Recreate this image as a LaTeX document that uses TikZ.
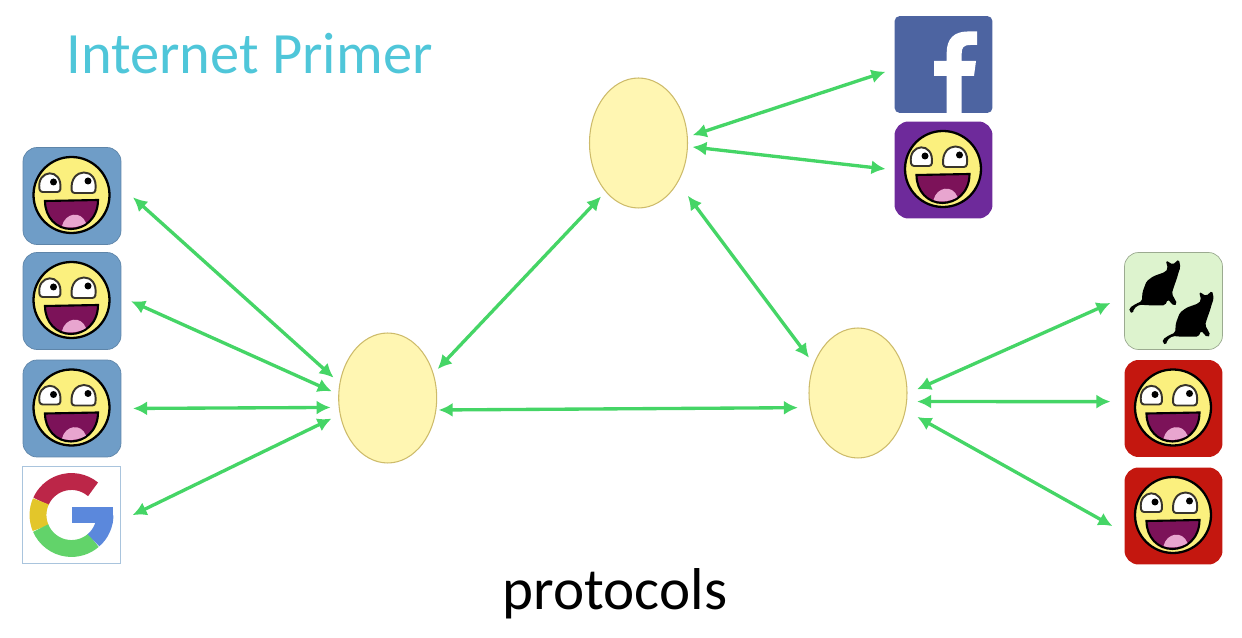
\documentclass[tikz,border=0pt]{standalone}
\usepackage{fontspec}
\setmainfont{Carlito}
\usetikzlibrary{arrows.meta, shapes.geometric}
\definecolor{linkgreen}{HTML}{45D566}
\definecolor{hubfill}{HTML}{FFF6B2}
\definecolor{hubline}{HTML}{CDBB6A}
\definecolor{titleblue}{HTML}{4FC6D9}
\definecolor{userblue}{HTML}{6F9DC7}
\definecolor{userpurple}{HTML}{6E2A9B}
\definecolor{userred}{HTML}{C4170F}
\definecolor{catgreen}{HTML}{DDF3CE}
\definecolor{fbblue}{HTML}{4D64A1}
\definecolor{facefill}{HTML}{FBF07E}
\definecolor{mouthfill}{HTML}{7C1259}
\definecolor{tonguefill}{HTML}{E8A5CF}
\definecolor{gred}{HTML}{BC2648}
\definecolor{gyellow}{HTML}{E3C62A}
\definecolor{ggreen}{HTML}{62D36A}
\definecolor{gblue}{HTML}{5B88DC}
\tikzset{
    hub/.style = {ellipse, draw = hubline, fill = hubfill, line width = 0.6pt, minimum width = 1.96cm, minimum height = 2.6cm, inner sep = 0, outer sep = 0},
    tile/.style = {rectangle, rounded corners = 8pt, minimum width = 1.96cm, minimum height = 1.94cm, inner sep = 0, outer sep = 0},
    link/.style 2 args = {{Latex[length = 8pt, width = 8pt]}-{Latex[length = 8pt, width = 8pt]}, linkgreen, line width = 1.9pt, shorten <= #1*0.02cm, shorten >= #2*0.02cm},
    smiley/.pic = {
        \draw[fill = facefill, line width = 1.3pt] (-0.5, -1) circle[radius = 38];
        \draw[fill = white, draw = black!80!olive, line width = 1.1pt, rounded corners = 1.5pt] (-32, -4) .. controls (-36, -27) and (-9, -29) .. (-12, -4) -- cycle;
        \draw[fill = white, draw = black!80!olive, line width = 1.1pt, rounded corners = 1.5pt] (0, -3) .. controls (-3, -29) and (27, -30) .. (23, -3) -- cycle;
        \fill (-18.5, -14) circle[radius = 3.5];
        \fill (16, -15) circle[radius = 3.5];
        \draw[fill = mouthfill, line width = 1.2pt] (-27, 5) -- (26, 4) .. controls (26, 23) and (12, 33) .. (-1, 33) .. controls (-16, 33) and (-27, 21) .. (-27, 5) -- cycle;
        \fill[tonguefill] (-10, 30) .. controls (-7, 17) and (9, 14) .. (14, 27) .. controls (8, 31) and (-2, 33) .. (-10, 30) -- cycle;
    },
    fbletter/.pic = {
        \fill[white] (3.2, 48.5) -- (3.2, 11.5) -- (-9.5, 11.5) -- (-9.5, -3.5) -- (3.2, -3.5) -- (3.2, -12) .. controls (3.2, -26) and (11, -33) .. (24, -33) -- (33.5, -33) -- (33.5, -19.5) -- (27, -19.5) .. controls (20, -19.5) and (18.2, -17) .. (18.2, -11) -- (18.2, -3.5) -- (32.5, -3.5) -- (30.5, 11.5) -- (18.2, 11.5) -- (18.2, 48.5) -- cycle;
    },
    gletter/.pic = {
        \begin{scope}[yscale = -1, line width = 9.6pt]
            \draw[gred] (50:33.5) arc[start angle = 50, end angle = 156, radius = 33.5];
            \draw[gyellow] (156:33.5) arc[start angle = 156, end angle = 203, radius = 33.5];
            \draw[ggreen] (203:33.5) arc[start angle = 203, end angle = 311, radius = 33.5];
            \draw[gblue] (311:33.5) arc[start angle = 311, end angle = 360, radius = 33.5];
            \fill[gblue] (0, 8) rectangle (41.5, -8);
        \end{scope}
    },
    cat/.pic = {
        \fill[black, scale = 0.333, rounded corners = 1pt] (34, -75) -- (55, -62) -- (73, -78) -- (78, -55) -- (72, -38) -- (67, -20) -- (58, 5) -- (52, 25) -- (68, 55) -- (58, 62) -- (40, 42) -- (32, 60) -- (-20, 60) -- (-45, 58) -- (-62, 70) -- (-65, 85) -- (-76, 78) -- (-75, 68) -- (-55, 55) -- (-38, 48) -- (-36, 20) -- (-24, -12) -- (-4, -27) -- (32, -40) -- (40, -50) -- cycle;
    }
}

\begin{document}
\begin{tikzpicture}[x = 0.02cm, y = -0.02cm]
    \useasboundingbox (0, 0) rectangle (1242, 638);
    \node[anchor = base, text = titleblue, font = \fontsize{33.3}{35}\selectfont] (title) at (249.5, 73.5) {Internet Primer};
    \node[anchor = base, font = \fontsize{33.6}{35}\selectfont] (protocols) at (615, 610) {protocols};
    \node[hub] (left hub) at (387.7, 398) {};
    \node[hub] (top hub) at (638.5, 143) {};
    \node[hub] (right hub) at (858, 393) {};
    \node[tile, fill = userblue, draw = userblue!85!black] (user a) at (72, 196) {};
    \node[tile, fill = userblue, draw = userblue!85!black] (user b) at (72, 301) {};
    \node[tile, fill = userblue, draw = userblue!85!black] (user c) at (72, 408.5) {};
    \node[tile, rounded corners = 0, fill = white, draw = userblue!60] (google) at (71.5, 515) {};
    \node[tile, rounded corners = 3pt, fill = fbblue] (facebook) at (943.5, 64.5) {};
    \node[tile, fill = userpurple] (user d) at (943.5, 170) {};
    \node[tile, fill = catgreen, draw = black!30!catgreen] (cats) at (1173.5, 301) {};
    \node[tile, fill = userred] (user e) at (1173.5, 408.5) {};
    \node[tile, fill = userred] (user f) at (1173.5, 516) {};
    \pic at (user a) {smiley};
    \pic at (user b) {smiley};
    \pic at (user c) {smiley};
    \pic at (user d) {smiley};
    \pic at (user e) {smiley};
    \pic at (user f) {smiley};
    \pic at (google) {gletter};
    \pic at (facebook) {fbletter};
    \pic at ([shift = {(-19, -15.7)}] cats) {cat};
    \pic at ([shift = {(14.3, 15.7)}] cats) {cat};
    \draw[link = {16.2}{8.6}] (user a.11.4) -- (left hub.163.4);
    \draw[link = {11}{7.7}] (user b.5.2) -- (left hub.176.7);
    \draw[link = {12}{8.6}] (user c.east) -- (left hub.191.7);
    \draw[link = {13.4}{9.7}] (google.-7.9) -- (left hub.199.4);
    \draw[link = {6.5}{6.9}] (left hub.28.1) -- (top hub.236.7);
    \draw[link = {2.8}{12.3}] (left hub.-14) -- (right hub.197.4);
    \draw[link = {17}{8.3}] (top hub.-45.5) -- (right hub.147.2);
    \draw[link = {5.6}{9.5}] (top hub.7.6) -- (facebook.185.4);
    \draw[link = {5}{9}] (top hub.-4) -- (user d.west);
    \draw[link = {11}{15.3}] (right hub.-1.8) -- (cats.175);
    \draw[link = {10.5}{14}] (right hub.-10.5) -- (user e.172.4);
    \draw[link = {13.8}{13.8}] (right hub.-20.2) -- (user f.199);
\end{tikzpicture}
\end{document}
